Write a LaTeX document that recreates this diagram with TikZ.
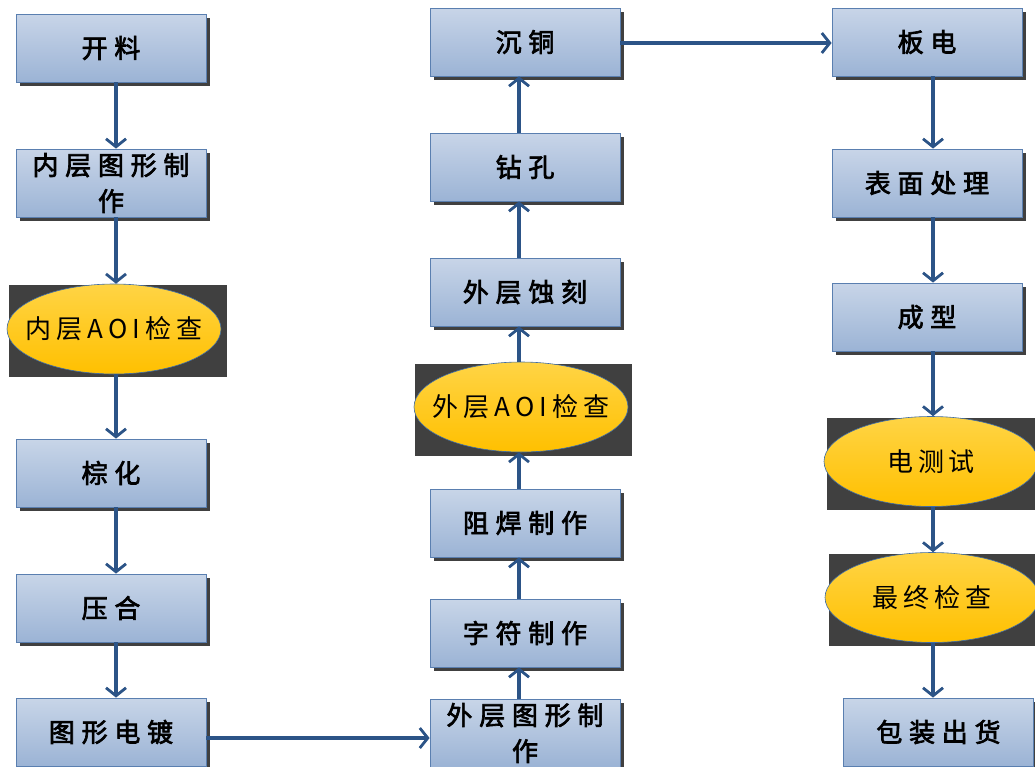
\documentclass[tikz,border=0pt]{standalone}
\usepackage{fontspec}
\newfontfamily\cjkbox[LetterSpace=26,FakeBold=2.6]{Noto Sans CJK SC}
\newfontfamily\cjkell[LetterSpace=19]{Noto Sans CJK SC}
\usetikzlibrary{shapes.geometric,arrows.meta,shadows}
\definecolor{boxtop}{HTML}{C8D5E8}
\definecolor{boxbot}{HTML}{9BB3D5}
\definecolor{boxline}{HTML}{5A7FB0}
\definecolor{elltop}{HTML}{FFD445}
\definecolor{ellbot}{HTML}{FFC000}
\definecolor{ellline}{HTML}{3E6CA8}
\definecolor{shade}{HTML}{404040}
\definecolor{arrowc}{HTML}{2C5487}
\newcommand{\ztext}[1]{\makebox[0pt]{#1}}
\tikzset{
  proc/.style={rectangle, draw=boxline, line width=0.8pt, top color=boxtop, bottom color=boxbot,
    minimum width=190pt, minimum height=68pt, inner sep=0pt, align=center,
    font=\cjkbox\fontsize{26}{36}\selectfont,
    general shadow={fill=shade, shadow xshift=3.5pt, shadow yshift=-3.5pt}},
  insp/.style={ellipse, draw=ellline, line width=0.6pt, top color=elltop, bottom color=ellbot,
    minimum width=214pt, minimum height=90pt, inner sep=0pt,
    font=\cjkell\fontsize{26}{30}\selectfont},
  darkbg/.style={rectangle, fill=shade, inner sep=0pt},
  flow/.style={draw=arrowc, line width=3.2pt, -{Straight Barb[length=8pt,width=20pt,line width=2.8pt]}}
}
\begin{document}
\begin{tikzpicture}[x=1pt,y=-1pt]
\useasboundingbox (0,0) rectangle (1035,766);
% dark backgrounds
\node[darkbg, minimum width=218pt, minimum height=92pt] (bgA) at (118,331) {};
\node[darkbg, minimum width=217pt, minimum height=92pt] (bgB) at (523.5,410) {};
\node[darkbg, minimum width=213pt, minimum height=92pt] (bgC) at (933.5,464) {};
\node[darkbg, minimum width=211pt, minimum height=92pt] (bgD) at (934.5,600) {};
% column 1
\node[proc] (a1) at (111,48) {开料};
\node[proc] (a2) at (111,183) {内层图形制\\作};
\node[insp] (eA) at (114,329) {\ztext{内层AOI检查}};
\node[proc] (a3) at (111,473) {棕化};
\node[proc] (a4) at (111,608) {压合};
\node[proc] (a5) at (111,732) {图形电镀};
% column 2
\node[proc] (b1) at (525,42) {沉铜};
\node[proc] (b2) at (525,167) {钻孔};
\node[proc] (b3) at (525,292) {外层蚀刻};
\node[insp] (eB) at (521,407) {\ztext{外层AOI检查}};
\node[proc] (b4) at (525,523) {阻焊制作};
\node[proc] (b5) at (525,633) {字符制作};
\node[proc] (b6) at (525,733) {外层图形制\\作};
% column 3
\node[proc] (c1) at (927,42) {板电};
\node[proc] (c2) at (927,183) {表面处理};
\node[proc] (c3) at (927,317) {成型};
\node[insp] (eC) at (931,461.5) {\ztext{电测试}};
\node[insp] (eD) at (932,597.5) {\ztext{最终检查}};
\node[proc] (c4) at (938.5,732) {包装出货};
% arrow guide coordinates
\coordinate (k1) at (116,0);
\coordinate (k2) at (519,0);
\coordinate (k3) at (933,0);
\coordinate (h1) at (0,738);
\coordinate (h2) at (0,43);
% column 1 arrows
\draw[flow] (a1.south -| k1) -- (a2.north -| k1);
\draw[flow] (a2.south -| k1) -- (eA.north -| k1);
\draw[flow] (eA.south -| k1) -- (a3.north -| k1);
\draw[flow] (a3.south -| k1) -- (a4.north -| k1);
\draw[flow] (a4.south -| k1) -- (a5.north -| k1);
\draw[flow] (a5.east |- h1) -- (b6.west |- h1);
% column 2 arrows (upwards)
\draw[flow] (b6.north -| k2) -- (b5.south -| k2);
\draw[flow] (b5.north -| k2) -- (b4.south -| k2);
\draw[flow] (b4.north -| k2) -- (eB.south -| k2);
\draw[flow] (eB.north -| k2) -- (b3.south -| k2);
\draw[flow] (b3.north -| k2) -- (b2.south -| k2);
\draw[flow] (b2.north -| k2) -- (b1.south -| k2);
\draw[flow] (b1.east |- h2) -- (c1.west |- h2);
% column 3 arrows
\draw[flow] (c1.south -| k3) -- (c2.north -| k3);
\draw[flow] (c2.south -| k3) -- (c3.north -| k3);
\draw[flow] (c3.south -| k3) -- (eC.north -| k3);
\draw[flow] (eC.south -| k3) -- (eD.north -| k3);
\draw[flow] (eD.south -| k3) -- (c4.north -| k3);
\end{tikzpicture}
\end{document}
